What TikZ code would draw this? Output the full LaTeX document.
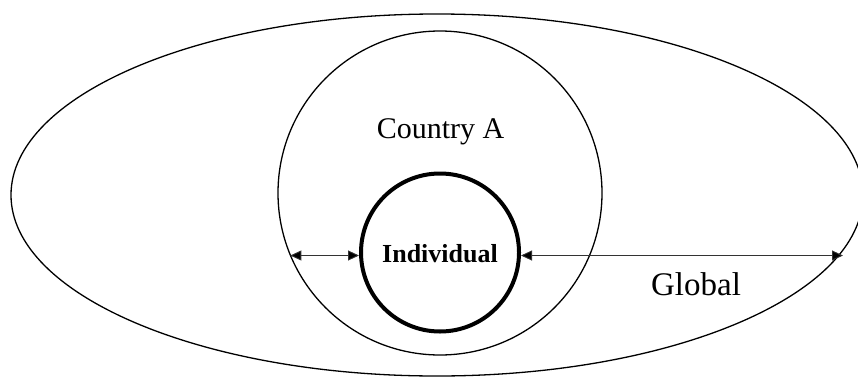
\documentclass[tikz,border=0pt]{standalone}
\usepackage{fontspec}
\setmainfont{Liberation Serif}
\usetikzlibrary{arrows.meta,shapes.geometric}
\tikzset{
  ring/.style={draw=black, line width=1.3pt},
  boldring/.style={draw=black, line width=4pt, circle, inner sep=0pt, minimum size=158pt},
  gap/.style={draw=black!80, line width=0.9pt, {Triangle[length=11pt,width=10pt,fill=black]}-{Triangle[length=11pt,width=10pt,fill=black]}},
  lbl/.style={font=\fontsize{30}{34}\selectfont, anchor=base},
}
\begin{document}
\begin{tikzpicture}[x=1pt,y=1pt]
\useasboundingbox (0,0) rectangle (858,376);
\node[ring, ellipse, minimum width=852pt, minimum height=362pt, inner sep=0pt] (global) at (437,181) {};
\node[ring, circle, minimum size=324pt, inner sep=0pt] (country) at (440,183) {};
\node[boldring] (ind) at (440,123.5) {};
\node[font=\bfseries\fontsize{26}{30}\selectfont] (indtxt) at (440,122) {Individual};
\node[lbl] (ctxt) at (440.5,238) {Country A};
\node[lbl, font=\fontsize{33}{36}\selectfont] (gtxt) at (696,81) {Global};
\coordinate (cl) at (290.3,120.5);
\coordinate (gr) at (843,120.5);
\draw[gap] (cl) -- (cl -| ind.west);
\draw[gap] (gr -| ind.east) -- (gr);
\end{tikzpicture}
\end{document}
